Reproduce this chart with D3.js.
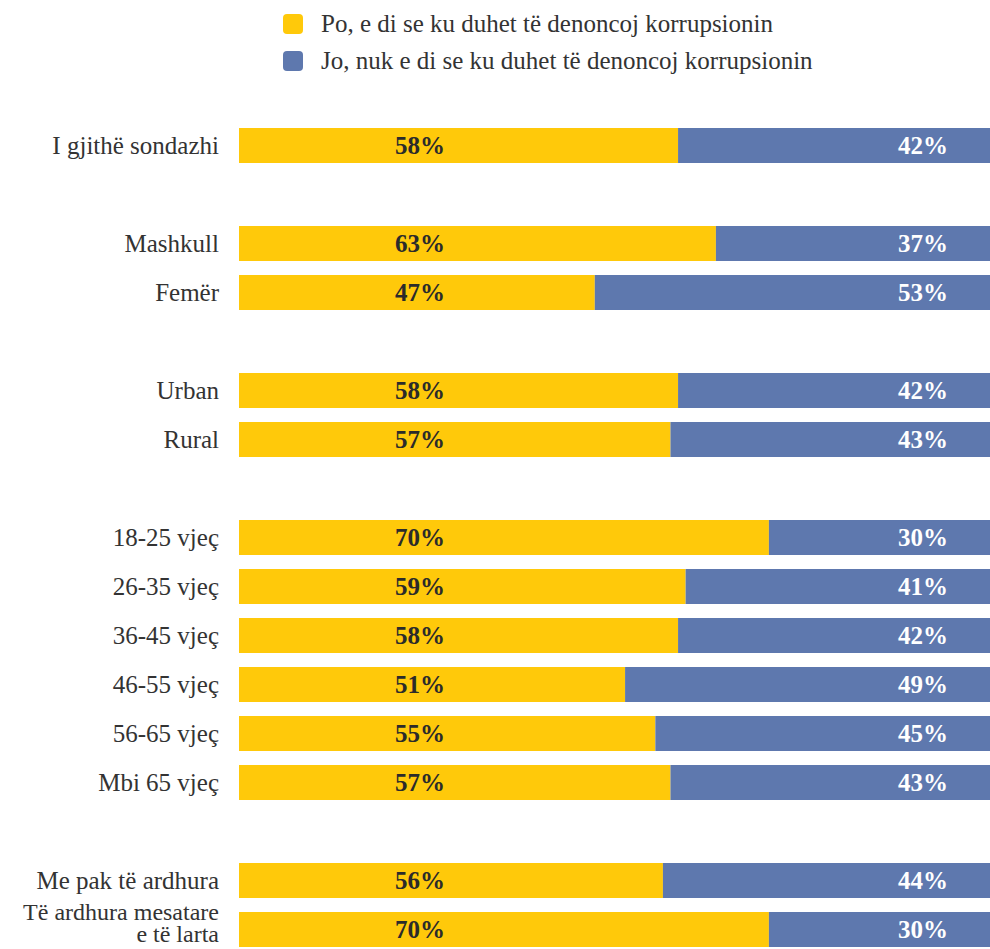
<!DOCTYPE html>
<html><head><meta charset="utf-8">
<script src="https://cdn.jsdelivr.net/npm/d3@7"></script>
<style>
html,body{margin:0;padding:0;background:#fff;overflow:hidden}
svg{display:block}
</style></head>
<body>
<svg id="chart" width="990" height="949"></svg>
<script>
// ---- data ----
const categories = ["I gjithë sondazhi","Mashkull","Femër","Urban","Rural",
  "18-25 vjeç","26-35 vjeç","36-45 vjeç","46-55 vjeç","56-65 vjeç","Mbi 65 vjeç",
  "Me pak të ardhura","Të ardhura mesatare\ne të larta"];
const groups = [0,1,1,2,2,3,3,3,3,3,3,4,4];
const yesValues = [58,63,47,58,57,70,59,58,51,55,57,56,70];
const noValues  = [42,37,53,42,43,30,41,42,49,45,43,44,30];
const seriesNames = ["Po, e di se ku duhet të denoncoj korrupsionin","Jo, nuk e di se ku duhet të denoncoj korrupsionin"];
const colors = ["#FFC90A","#5E78AE"];

const svg = d3.select("#chart");
const font = "'Liberation Serif', serif";

const slots = categories.map((c,i)=> i + groups[i]);
const nSlots = d3.max(slots)+1;
const y = d3.scaleLinear().domain([0, nSlots-1]).range([145.5, 929.5]);
const x = d3.scaleLinear().domain([0,100]).range([239, 996]);
const barH = 35;

const rows = categories.map((c,i)=>({cat:c, slot:slots[i], yes:yesValues[i], no:noValues[i]}));

const g = svg.append("g");
const row = g.selectAll("g.row").data(rows).join("g").attr("class","row");

row.append("rect")
  .attr("x", x(0)).attr("y", d=>y(d.slot)-barH/2)
  .attr("width", d=>x(d.yes)-x(0)).attr("height", barH)
  .attr("fill", colors[0]);
row.append("rect")
  .attr("x", d=>x(d.yes)).attr("y", d=>y(d.slot)-barH/2)
  .attr("width", d=>x(d.yes+d.no)-x(d.yes)).attr("height", barH)
  .attr("fill", colors[1]);

row.append("text")
  .attr("x", 420).attr("y", d=>y(d.slot)+8)
  .attr("text-anchor","middle")
  .attr("font-family", font).attr("font-weight","bold").attr("font-size", 25)
  .attr("fill","#2b2b2b")
  .text(d=>d.yes+"%");
row.append("text")
  .attr("x", 923).attr("y", d=>y(d.slot)+8)
  .attr("text-anchor","middle")
  .attr("font-family", font).attr("font-weight","bold").attr("font-size", 25)
  .attr("fill","#ffffff")
  .text(d=>d.no+"%");

// category labels
row.each(function(d){
  const lines = d.cat.split("\n");
  const t = d3.select(this).append("text")
    .attr("text-anchor","end")
    .attr("font-family", font).attr("font-size", lines.length>1 ? 24 : 25)
    .attr("fill","#333333");
  const lh = 22;
  const y0 = lines.length>1 ? y(d.slot) - 10 : y(d.slot) + 8;
  lines.forEach((l,k)=>{
    t.append("tspan").attr("x", 219).attr("y", y0 + k*lh).text(l);
  });
});

// legend
const leg = svg.append("g");
seriesNames.forEach((s,i)=>{
  leg.append("rect").attr("x",283).attr("y",14+i*37).attr("width",20).attr("height",20)
    .attr("rx",4).attr("fill",colors[i]);
  leg.append("text").attr("x",321).attr("y",32+i*37)
    .attr("font-family",font).attr("font-size",25).attr("fill","#333333").text(s);
});
</script>
</body></html>
